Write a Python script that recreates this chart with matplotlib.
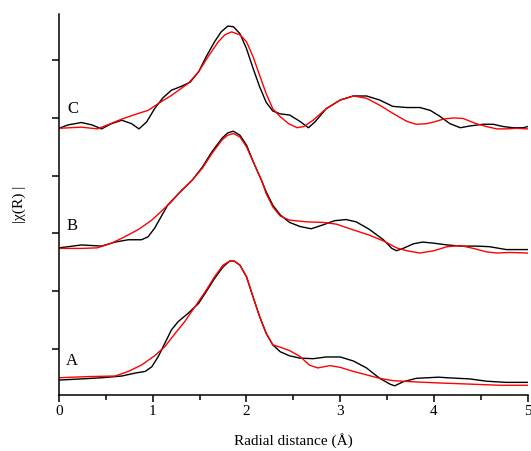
import matplotlib

matplotlib.use("Agg")
import matplotlib.pyplot as plt

plt.rcParams["font.family"] = ["Liberation Serif", "DejaVu Serif"]

a_r_data = [0, 0.24, 0.455, 0.67, 0.81, 0.92, 0.99, 1.06, 1.13, 1.20, 1.27, 1.38,
            1.49, 1.57, 1.66, 1.75, 1.82, 1.87, 1.93, 2.00, 2.07, 2.14, 2.21, 2.28,
            2.36, 2.46, 2.57, 2.71, 2.85, 3.00, 3.14, 3.28, 3.42, 3.53, 3.58, 3.67,
            3.81, 4.05, 4.14, 4.38, 4.56, 4.77, 5.0]
a_data = [-0.54, -0.52, -0.50, -0.47, -0.42, -0.39, -0.31, -0.13, 0.10, 0.33, 0.47,
          0.62, 0.79, 0.99, 1.22, 1.42, 1.52, 1.52, 1.45, 1.25, 0.90, 0.56, 0.27,
          0.07, -0.05, -0.12, -0.16, -0.17, -0.14, -0.14, -0.21, -0.33, -0.51,
          -0.61, -0.64, -0.57, -0.51, -0.49, -0.50, -0.52, -0.56, -0.58, -0.58]
a_r_fit = [0, 0.31, 0.60, 0.74, 0.88, 1.02, 1.13, 1.24, 1.34, 1.45, 1.56, 1.66,
           1.75, 1.82, 1.87, 1.93, 2.00, 2.07, 2.14, 2.21, 2.28, 2.36, 2.46, 2.57,
           2.67, 2.76, 2.89, 3.00, 3.14, 3.28, 3.42, 3.56, 3.78, 4.05, 4.38, 4.70,
           5.0]
a_fit = [-0.50, -0.48, -0.47, -0.39, -0.28, -0.12, 0.04, 0.27, 0.47, 0.73, 0.99,
         1.25, 1.45, 1.52, 1.52, 1.45, 1.25, 0.90, 0.56, 0.27, 0.07, 0.03, -0.03,
         -0.13, -0.28, -0.33, -0.29, -0.32, -0.39, -0.45, -0.51, -0.55, -0.57,
         -0.59, -0.61, -0.63, -0.63]

# sample B
b_r_data = [0, 0.10, 0.24, 0.35, 0.455, 0.60, 0.74, 0.88, 0.95, 1.02, 1.09, 1.16,
            1.27, 1.42, 1.53, 1.63, 1.74, 1.80, 1.86, 1.93, 2.00, 2.08, 2.16, 2.21,
            2.28, 2.36, 2.46, 2.57, 2.69, 2.82, 2.94, 3.06, 3.17, 3.31, 3.46, 3.55,
            3.60, 3.67, 3.78, 3.88, 4.00, 4.14, 4.28, 4.45, 4.59, 4.77, 5.0]
b_data = [1.75, 1.77, 1.80, 1.79, 1.78, 1.85, 1.89, 1.89, 1.94, 2.09, 2.29, 2.49,
          2.68, 2.92, 3.15, 3.41, 3.65, 3.74, 3.77, 3.70, 3.53, 3.21, 2.92, 2.72,
          2.49, 2.32, 2.19, 2.12, 2.08, 2.15, 2.22, 2.24, 2.20, 2.07, 1.89, 1.74,
          1.70, 1.74, 1.82, 1.85, 1.83, 1.80, 1.78, 1.78, 1.77, 1.72, 1.72]
b_r_fit = [0, 0.24, 0.41, 0.56, 0.70, 0.85, 0.99, 1.09, 1.20, 1.31, 1.42, 1.53,
           1.63, 1.74, 1.80, 1.86, 1.93, 2.00, 2.08, 2.16, 2.21, 2.28, 2.36, 2.46,
           2.64, 2.82, 2.96, 3.14, 3.31, 3.46, 3.60, 3.71, 3.85, 4.00, 4.14, 4.28,
           4.42, 4.56, 4.67, 4.81, 5.0]
b_fit = [1.74, 1.74, 1.75, 1.83, 1.94, 2.07, 2.23, 2.38, 2.55, 2.75, 2.92, 3.13,
         3.38, 3.62, 3.70, 3.73, 3.67, 3.50, 3.21, 2.92, 2.69, 2.46, 2.30, 2.23,
         2.20, 2.19, 2.16, 2.06, 1.97, 1.87, 1.75, 1.70, 1.66, 1.70, 1.77, 1.79,
         1.74, 1.68, 1.66, 1.67, 1.66]

# sample C
c_r_data = [0, 0.10, 0.24, 0.35, 0.455, 0.56, 0.67, 0.775, 0.853, 0.935, 1.02,
            1.11, 1.20, 1.31, 1.40, 1.49, 1.57, 1.66, 1.73, 1.80, 1.86, 1.93, 2.00,
            2.07, 2.14, 2.21, 2.28, 2.36, 2.46, 2.57, 2.66, 2.73, 2.85, 3.00, 3.14,
            3.28, 3.42, 3.56, 3.71, 3.85, 3.96, 4.06, 4.17, 4.28, 4.38, 4.52, 4.63,
            4.74, 4.84, 4.95, 5.0]
c_data = [3.82, 3.88, 3.92, 3.88, 3.81, 3.90, 3.96, 3.90, 3.81, 3.93, 4.16, 4.35,
          4.48, 4.55, 4.62, 4.80, 5.06, 5.32, 5.49, 5.59, 5.58, 5.46, 5.20, 4.86,
          4.54, 4.27, 4.12, 4.07, 4.05, 3.94, 3.83, 3.93, 4.16, 4.31, 4.38, 4.38,
          4.31, 4.20, 4.18, 4.18, 4.13, 4.03, 3.90, 3.83, 3.86, 3.89, 3.89, 3.85,
          3.83, 3.83, 3.85]
c_r_fit = [0, 0.24, 0.41, 0.52, 0.67, 0.85, 0.95, 1.06, 1.20, 1.38, 1.49, 1.59,
           1.70, 1.77, 1.84, 1.93, 2.00, 2.07, 2.14, 2.21, 2.28, 2.36, 2.45, 2.54,
           2.61, 2.71, 2.85, 3.00, 3.14, 3.28, 3.42, 3.56, 3.71, 3.81, 3.92, 4.00,
           4.10, 4.21, 4.31, 4.45, 4.56, 4.67, 4.77, 4.88, 5.0]
c_fit = [3.82, 3.84, 3.81, 3.88, 3.98, 4.08, 4.13, 4.25, 4.39, 4.60, 4.80, 5.06,
         5.32, 5.44, 5.49, 5.44, 5.32, 5.06, 4.74, 4.42, 4.16, 4.02, 3.90, 3.83,
         3.85, 3.96, 4.16, 4.31, 4.38, 4.34, 4.22, 4.08, 3.94, 3.89, 3.90, 3.93,
         3.98, 4.00, 3.99, 3.90, 3.85, 3.81, 3.81, 3.82, 3.81]

labels = ["A", "B", "C"]
label_pos = [(0.14, -0.21), (0.14, 2.13), (0.15, 4.15)]

fig = plt.figure(figsize=(5.31, 4.51), dpi=100)
ax = fig.add_axes([0.111, 0.124, 0.883, 0.845])

for r, y in [(a_r_data, a_data), (b_r_data, b_data), (c_r_data, c_data)]:
    ax.plot(r, y, color="black", lw=1.0, solid_joinstyle="round")
for r, y in [(a_r_fit, a_fit), (b_r_fit, b_fit), (c_r_fit, c_fit)]:
    ax.plot(r, y, color="red", lw=1.0, solid_joinstyle="round")

for lab, (x, y) in zip(labels, label_pos):
    ax.text(x, y, lab, fontsize=12, ha="center", va="center")

ax.set_xlim(0, 5)
ax.set_ylim(-0.8, 5.8)
ax.set_xticks([0, 1, 2, 3, 4, 5])
ax.set_xticks([0.5, 1.5, 2.5, 3.5, 4.5], minor=True)
ax.set_yticks([0, 1, 2, 3, 4, 5])
ax.set_yticklabels([])
ax.tick_params(axis="both", which="major", direction="out", length=5, width=1.1,
               labelsize=11, pad=2)
ax.tick_params(axis="x", which="minor", direction="out", length=3.5, width=1.1)
for side in ["top", "right"]:
    ax.spines[side].set_visible(False)
for side in ["left", "bottom"]:
    ax.spines[side].set_linewidth(1.1)

ax.set_xlabel("Radial distance (Å)", fontsize=11, labelpad=11)
ax.set_ylabel("|χ(R) |", fontsize=11, labelpad=17)

fig.savefig("out.png", dpi=100)
